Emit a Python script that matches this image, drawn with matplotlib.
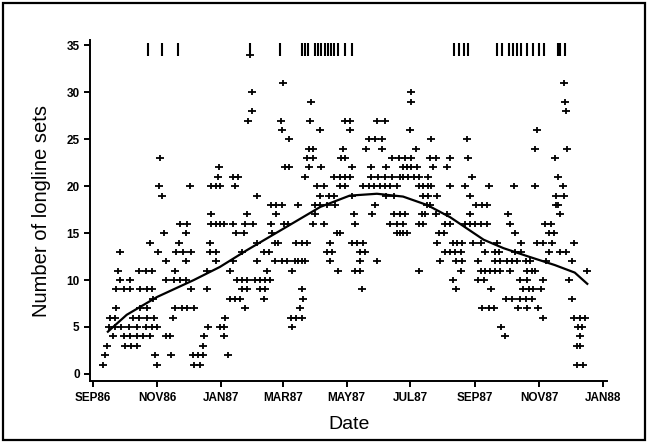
import numpy as np
import matplotlib
matplotlib.use('Agg')
import matplotlib.pyplot as plt
import matplotlib.dates as mdates
from matplotlib.path import Path
from matplotlib.patches import Rectangle

plt.rcParams['font.family'] = ['Liberation Sans', 'DejaVu Sans']

start = np.datetime64('1986-09-01')

# number of longline sets per day, one row per count level
# (days counted from 1 Sep 1986)
levels = [1, 2, 3, 4, 5, 6, 7, 8, 9, 10, 11, 12, 13, 14, 15, 16, 17,
          18, 19, 20, 21, 22, 23, 24, 25, 26, 27, 28, 29, 30, 31, 34]
days_at_level = [
    [9, 61, 96, 102, 462, 468],
    [11, 59, 74, 95, 100, 105, 129],
    [13, 30, 36, 42, 105, 462, 465],
    [19, 29, 35, 42, 48, 54, 70, 73, 106, 125, 393, 465],
    [15, 21, 27, 34, 42, 50, 56, 61, 110, 121, 125, 190, 390, 463, 467],
    [16, 21, 38, 44, 51, 58, 76, 126, 189, 194, 199, 430, 459, 465, 470],
    [22, 45, 51, 78, 85, 90, 96, 145, 198, 371, 378, 383, 406, 414, 425],
    [57, 131, 135, 140, 163, 200, 394, 400, 408, 413, 419, 457],
    [22, 29, 35, 45, 51, 56, 93, 109, 142, 147, 159, 164, 199, 257, 347,
     380, 411, 416, 420, 428],
    [26, 35, 70, 77, 83, 89, 137, 142, 147, 155, 159, 164, 169, 344, 368,
     373, 408, 414, 430, 455],
    [24, 44, 50, 56, 78, 109, 131, 166, 190, 234, 250, 255, 311, 351, 370,
     374, 379, 384, 389, 398, 414, 419, 422, 472],
    [70, 89, 117, 134, 156, 174, 180, 185, 193, 196, 199, 202, 226, 255,
     271, 331, 347, 352, 368, 384, 389, 395, 400, 405, 413, 417, 433, 457],
    [26, 62, 79, 86, 93, 112, 117, 142, 163, 168, 223, 228, 255, 260, 336,
     341, 346, 351, 374, 384, 388, 403, 409, 435, 446, 452],
    [54, 82, 112, 156, 174, 177, 194, 199, 204, 226, 247, 252, 258, 328,
     344, 348, 352, 363, 370, 386, 409, 424, 430, 438, 459],
    [68, 89, 136, 144, 171, 233, 236, 290, 293, 296, 300, 330, 335, 403,
     435, 440],
    [83, 90, 113, 117, 121, 125, 134, 145, 153, 170, 182, 186, 210, 220,
     250, 284, 290, 296, 311, 315, 336, 341, 355, 360, 365, 370, 376, 398,
     432, 437],
    [113, 147, 175, 212, 249, 266, 287, 293, 298, 314, 317, 327, 338, 360,
     396, 446],
    [170, 175, 180, 196, 212, 217, 223, 231, 269, 319, 322, 366, 371, 376,
     442, 444],
    [66, 156, 217, 225, 230, 247, 280, 287, 315, 320, 328, 360, 442, 450],
    [63, 92, 113, 117, 121, 135, 214, 220, 236, 241, 258, 263, 268, 274,
     279, 284, 290, 311, 315, 320, 323, 341, 355, 378, 402, 422, 449],
    [119, 134, 138, 202, 230, 236, 241, 245, 265, 272, 279, 285, 293, 296,
     301, 306, 311, 320, 362, 444],
    [120, 183, 187, 206, 218, 247, 265, 280, 296, 300, 304, 309, 325, 338],
    [64, 204, 210, 237, 241, 285, 292, 298, 304, 322, 327, 341, 358, 441],
    [206, 210, 239, 261, 276, 308, 422, 453],
    [187, 263, 269, 276, 323, 357],
    [180, 217, 245, 303, 424],
    [148, 179, 207, 241, 245, 271, 279],
    [152, 452],
    [208, 304, 451],
    [152, 304],
    [181, 450],
    [150],
]

# smoothed trend
curve_days = [14, 32, 61, 96, 121, 147, 179, 217, 245, 271, 296, 319,
              341, 357, 373, 392, 416, 441, 460, 472]
curve_sets = [4.5, 6.3, 8.2, 10.0, 11.4, 13.2, 15.3, 17.8, 19.0, 19.2,
              18.9, 18.0, 16.7, 15.5, 14.3, 13.4, 12.5, 11.6, 10.8, 9.6]

# rug marks along the top
rug_days = [52, 66, 81, 150, 178, 199, 202, 205, 212, 215, 218, 221, 224,
            227, 230, 234, 241, 247, 345, 349, 354, 358, 386, 391, 397,
            401, 405, 409, 414, 420, 426, 431, 444, 446, 451]

days = []
counts = []
for lev, dl in zip(levels, days_at_level):
    days += dl
    counts += [lev] * len(dl)

dates = start + np.array(days).astype('timedelta64[D]')
cdates = start + np.array(curve_days).astype('timedelta64[D]')
rdates = start + np.array(rug_days).astype('timedelta64[D]')

plus = Path([(-1, 0), (1, 0), (0, -0.7), (0, 0.7)],
            [Path.MOVETO, Path.LINETO, Path.MOVETO, Path.LINETO])

fig = plt.figure(figsize=(6.48, 4.43), dpi=100)
ax = fig.add_axes([0.139, 0.139, 0.798, 0.771])

ax.plot(dates, counts, linestyle='none', marker=plus, ms=6.4, mew=1.3,
        color='black')
ax.plot(cdates, curve_sets, color='black', lw=1.6)
ax.vlines(rdates, 33.9, 35.3, color='black', lw=1.5)

ax.set_ylim(-0.8, 35.6)
ax.set_xlim(start - np.timedelta64(3, 'D'), start + np.timedelta64(491, 'D'))
ax.set_yticks(range(0, 36, 5))

ax.xaxis.set_major_locator(mdates.MonthLocator(bymonth=[1, 3, 5, 7, 9, 11]))
ax.xaxis.set_major_formatter(
    plt.FuncFormatter(lambda v, p: mdates.num2date(v).strftime('%b%y').upper()))

for s in ['top', 'right']:
    ax.spines[s].set_visible(False)
for s in ['left', 'bottom']:
    ax.spines[s].set_linewidth(1.4)
ax.tick_params(direction='out', length=4, width=1.4, labelsize=8.5)
for lab in ax.get_xticklabels() + ax.get_yticklabels():
    lab.set_fontweight('bold')

ax.set_xlabel('Date', fontsize=14, labelpad=9)
ax.set_ylabel('Number of longline sets', fontsize=14.5, labelpad=11)

fig.patches.append(Rectangle((0.005, 0.007), 0.99, 0.986,
                             transform=fig.transFigure, fill=False,
                             lw=1.6, edgecolor='black'))

fig.savefig('out.png', dpi=100)
